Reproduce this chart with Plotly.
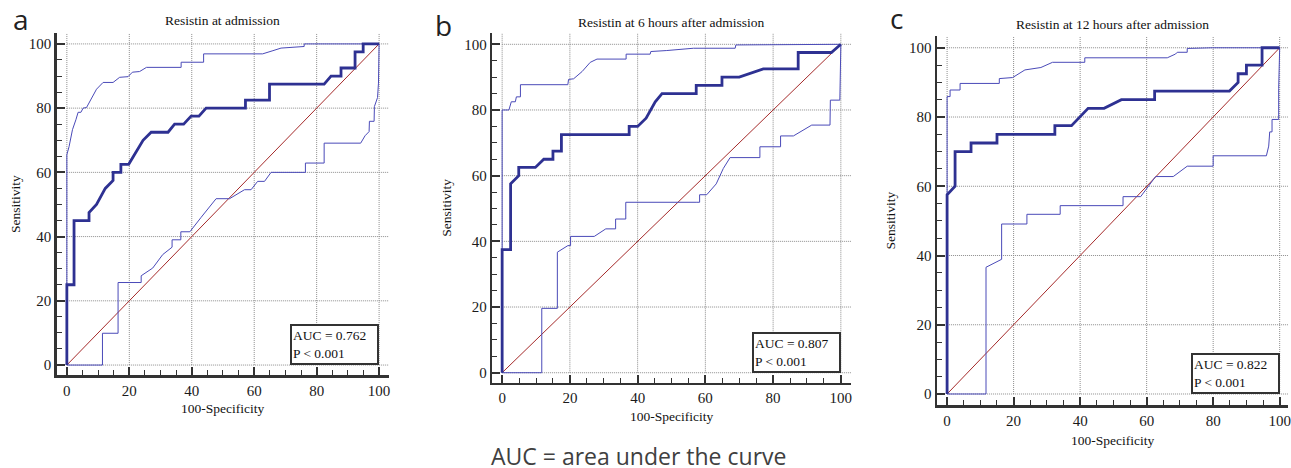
import plotly.graph_objects as go

# ---------------- data ----------------
panel_letters = ["a", "b", "c"]
panel_titles = ["Resistin at admission", "Resistin at 6 hours after admission",
                "Resistin at 12 hours after admission"]
auc_values = ["0.762", "0.807", "0.822"]
p_values = ["P &lt; 0.001", "P &lt; 0.001", "P &lt; 0.001"]
tick_values = [0, 20, 40, 60, 80, 100]
ref_x = [0, 100]
ref_y = [0, 100]

# Panel a
a_roc_x = [0, 0, 2.3, 2.3, 7.1, 7.1, 9.5, 12.3, 14.8, 14.8, 17.3, 17.3, 19.8, 24.4, 27, 32.4, 34.5, 37.4, 39.8, 42.3,
           44.6, 57.2, 57.2, 64.9, 64.9, 82.4, 84.6, 87.8, 87.8, 92.3, 92.3, 94.9, 94.9, 100]
a_roc_y = [0, 25, 25, 45, 45, 47.5, 50, 55, 57.5, 60, 60, 62.5, 62.5, 70, 72.5, 72.5, 75, 75, 77.5, 77.5,
           80, 80, 82.5, 82.5, 87.5, 87.5, 90, 90, 92.5, 92.5, 97.5, 97.5, 100, 100]
a_up_x = [0, 0, 0.7, 1.8, 2.9, 3.6, 4.5, 5.2, 6.3, 7.9, 9.5, 11.6, 14.8, 16.9, 19.6, 21, 23.3, 25.5, 36.6, 36.6,
          43.8, 43.8, 62.7, 66, 68.6, 76, 76, 100]
a_up_y = [0, 65.5, 68, 73.3, 76.4, 78.7, 78.7, 80, 80.2, 83.1, 85.9, 88, 88, 89.6, 89.8, 91.2, 91.4, 92.7, 92.7, 94.3,
          94.3, 96.9, 96.9, 97.9, 98.7, 99.2, 100, 100]
a_lo_x = [0, 11.4, 11.4, 16.4, 16.4, 23.8, 23.8, 27.5, 30.7, 33.7, 33.7, 36.5, 36.5, 39.4, 43, 46.5, 47.8, 52.1, 54.2,
          56.9, 59, 61.1, 63.3, 65.4, 76.4, 76.4, 82.4, 82.4, 94.1, 95.5, 96.8, 96.9, 98.4, 98.5, 99.5, 99.8, 100]
a_lo_y = [0, 0, 9.9, 9.9, 25.7, 25.7, 27.8, 30.2, 34.4, 36.7, 39, 39, 41.5, 41.5, 46, 50.5, 51.8, 51.8, 53,
          54.6, 54.6, 57.2, 57.2, 60, 60, 62.9, 62.9, 69.1, 69.1, 71.4, 72.7, 75.9, 75.9, 80.5, 83.3, 87.8, 100]

# Panel b
b_roc_x = [0, 0, 2.5, 2.5, 4.9, 4.9, 9.8, 12.3, 15, 15, 17.5, 17.5, 37.5, 37.5, 40, 42.5, 45.2, 47.2, 57.3, 57.3,
           64.9, 64.9, 70, 77.1, 87.4, 87.4, 97.2, 100]
b_roc_y = [0, 37.5, 37.5, 57.5, 60, 62.5, 62.5, 65, 65, 67.5, 67.5, 72.5, 72.5, 75, 75, 77.5, 82.5, 85, 85, 87.5,
           87.5, 90, 90, 92.5, 92.5, 97.5, 97.5, 100]
b_up_x = [0, 0, 2, 2.7, 3.9, 4.2, 5.4, 5.4, 19.4, 19.6, 21.1, 23.6, 26, 28, 36.6, 36.6, 43.7, 43.9, 48.6, 56.5,
          68.8, 69, 100]
b_up_y = [0, 80, 80, 82.5, 82.5, 84, 84, 87.7, 87.7, 89.3, 89.5, 91.7, 94.5, 95.5, 95.5, 97, 97, 97.8, 98.1, 98.8,
          98.8, 99.8, 100]
b_lo_x = [0, 11.7, 11.7, 16.3, 16.3, 19.4, 20.2, 20.2, 27.2, 30.6, 33.5, 33.5, 36.5, 36.5, 57.5, 58.3, 58.3, 60.4,
          63.2, 65.3, 67.3, 76.1, 76.1, 82.2, 82.2, 86, 91.4, 96.8, 96.9, 99.7, 100]
b_lo_y = [0, 0, 19.6, 19.6, 36.7, 38.7, 38.7, 41.5, 41.5, 43.8, 43.8, 46.8, 46.8, 51.9, 51.9, 51.9, 54.2, 54.2,
          57.5, 62.2, 65.5, 65.5, 68.8, 68.8, 72.1, 72.1, 75.4, 75.4, 83, 83, 100]

# Panel c
c_roc_x = [0, 0, 2.4, 2.4, 7.2, 7.2, 15, 15, 32.4, 32.4, 37.4, 42.4, 47.2, 52.4, 62.4, 62.4, 84.9, 87.5, 87.5, 90,
           90, 94.7, 94.7, 100]
c_roc_y = [0, 57.5, 60, 70, 70, 72.5, 72.5, 75, 75, 77.5, 77.5, 82.5, 82.5, 85, 85, 87.5, 87.5, 90, 92.5, 92.5,
           95, 95, 100, 100]
c_up_x = [0, 0, 0.9, 0.9, 3.9, 3.9, 15.7, 15.7, 19.7, 23.4, 28.2, 31.7, 41.4, 41.4, 66.2, 68.7, 69.2, 72.2, 72.2,
          79.7, 100]
c_up_y = [0, 85.9, 85.9, 87.8, 87.8, 89.7, 89.7, 91.1, 91.4, 93.6, 94.3, 95.8, 95.8, 97.1, 97.1, 98.2, 98.7, 98.7,
          99.8, 100, 100]
c_lo_x = [0, 11.7, 11.7, 16.4, 16.4, 24, 24, 34, 34, 52.9, 52.9, 58.2, 62.7, 68, 72.2, 80, 80, 96, 96.7, 97,
          97.7, 97.7, 99.7, 99.7, 100]
c_lo_y = [0, 0, 36.6, 38.9, 49.1, 49.1, 51.9, 51.9, 54.4, 54.4, 57, 57, 62.8, 62.8, 65.8, 65.8, 68.8, 68.8, 71.6,
          75.7, 75.7, 79.3, 79.3, 88.3, 100]

# ---------------- layout geometry ----------------
W, H = 1291, 468
SERIF = "Liberation Serif"
SANS = "Open Sans"

panels = [
    dict(roc=(a_roc_x, a_roc_y), up=(a_up_x, a_up_y), lo=(a_lo_x, a_lo_y),
         xdom=[57 / W, 390 / W], ydom=[1 - 375 / H, 1 - 33 / H],
         xr=[-3.2, 103.2], yr=[-3.1, 103.4],
         letter_xy=(21, 19), title_y=21, xt_y=408, yt_x=15),
    dict(roc=(b_roc_x, b_roc_y), up=(b_up_x, b_up_y), lo=(b_lo_x, b_lo_y),
         xdom=[493.3 / W, 853 / W], ydom=[1 - 382.7 / H, 1 - 33.3 / H],
         xr=[-2.95, 103.0], yr=[-3.04, 103.35],
         letter_xy=(444.5, 25), title_y=22, xt_y=416, yt_x=447.7),
    dict(roc=(c_roc_x, c_roc_y), up=(c_up_x, c_up_y), lo=(c_lo_x, c_lo_y),
         xdom=[939.3 / W, 1.0], ydom=[1 - 405 / H, 1 - 36 / H],
         xr=[-3.0, 102.5], yr=[-3.18, 103.4],
         letter_xy=(899, 18), title_y=24, xt_y=440, yt_x=893),
]

MAIN_COLOR = "#2E3192"
CI_COLOR = "#4A4AB8"
REF_COLOR = "#A52A2A"
AXIS_COLOR = "#333333"
GRID_COLOR = "#8c8c8c"

fig = go.Figure()
shapes = []
annotations = []

for i, p in enumerate(panels):
    sfx = "" if i == 0 else str(i + 1)
    xa, ya = "x" + sfx, "y" + sfx
    common = dict(xaxis=xa, yaxis=ya, mode="lines", showlegend=False, hoverinfo="skip")
    fig.add_trace(go.Scatter(x=ref_x, y=ref_y, line=dict(color=REF_COLOR, width=1), **common))
    fig.add_trace(go.Scatter(x=p["up"][0], y=p["up"][1], line=dict(color=CI_COLOR, width=1), **common))
    fig.add_trace(go.Scatter(x=p["lo"][0], y=p["lo"][1], line=dict(color=CI_COLOR, width=1), **common))
    fig.add_trace(go.Scatter(x=p["roc"][0], y=p["roc"][1], line=dict(color=MAIN_COLOR, width=2.8), **common))

    axis_common = dict(
        showgrid=False, zeroline=False, showline=True, linecolor=AXIS_COLOR, linewidth=2.5,
        ticks="inside", ticklen=8, tickwidth=2, tickcolor=AXIS_COLOR,
        tickvals=tick_values, ticktext=[str(t) for t in tick_values],
        minor=dict(ticks="inside", ticklen=5, tickwidth=1, tickcolor=AXIS_COLOR, dtick=5, tick0=0, showgrid=False),
        tickfont=dict(family=SERIF, size=15, color="#1a1a1a"),
        fixedrange=True, ticklabeloverflow="allow",
    )
    fig.update_layout(**{
        "xaxis" + sfx: dict(domain=p["xdom"], range=p["xr"], anchor=ya, **axis_common),
        "yaxis" + sfx: dict(domain=p["ydom"], range=p["yr"], anchor=xa, **axis_common),
    })

    # fine dotted grid lines, starting at the data origin
    for t in tick_values:
        shapes.append(dict(type="line", xref=xa, yref=ya, x0=0, x1=p["xr"][1], y0=t, y1=t, layer="below",
                           line=dict(color=GRID_COLOR, width=1, dash="1px,1px")))
        shapes.append(dict(type="line", xref=xa, yref=ya, x0=t, x1=t, y0=0, y1=p["yr"][1], layer="below",
                           line=dict(color=GRID_COLOR, width=1, dash="1px,1px")))

    # AUC box
    annotations.append(dict(
        xref=xa, yref=ya, x=100, y=0, xanchor="right", yanchor="bottom",
        text=f"AUC = {auc_values[i]}<br>{p_values[i]}", align="left", valign="middle",
        width=83, height=35, borderpad=1, borderwidth=2, bordercolor=AXIS_COLOR, bgcolor="white",
        showarrow=False, font=dict(family=SERIF, size=13.5, color="#111111")))

    # panel title
    annotations.append(dict(
        xref=xa + " domain", yref="paper", x=0.5, y=1 - p["title_y"] / H, xanchor="center", yanchor="middle",
        text=panel_titles[i], showarrow=False, font=dict(family=SERIF, size=13.5, color="#111111")))
    # axis titles
    annotations.append(dict(
        xref=xa + " domain", yref="paper", x=0.5, y=1 - p["xt_y"] / H, xanchor="center", yanchor="middle",
        text="100-Specificity", showarrow=False, font=dict(family=SERIF, size=13.5, color="#111111")))
    annotations.append(dict(
        xref="paper", yref=ya + " domain", x=p["yt_x"] / W, y=0.5, xanchor="center", yanchor="middle",
        text="Sensitivity", textangle=-90, showarrow=False, font=dict(family=SERIF, size=13.5, color="#111111")))
    # panel letter
    lx, ly = p["letter_xy"]
    annotations.append(dict(
        xref="paper", yref="paper", x=lx / W, y=1 - ly / H, xanchor="center", yanchor="middle",
        text=panel_letters[i], showarrow=False, font=dict(family=SANS, size=28, color="#222222")))

annotations.append(dict(
    xref="paper", yref="paper", x=640 / W, y=1 - 456 / H, xanchor="center", yanchor="middle",
    text="AUC = area under the curve", showarrow=False, font=dict(family=SANS, size=23, color="#404040")))

fig.update_layout(
    width=W, height=H, autosize=False,
    margin=dict(l=0, r=0, t=0, b=0),
    paper_bgcolor="white", plot_bgcolor="white",
    font=dict(family=SERIF),
    shapes=shapes, annotations=annotations,
)

fig.write_html("out.html", config={"displayModeBar": False, "staticPlot": True},
               post_script="document.body.style.margin='0px';document.body.style.padding='0px';"
                           "document.body.style.overflow='hidden';")
